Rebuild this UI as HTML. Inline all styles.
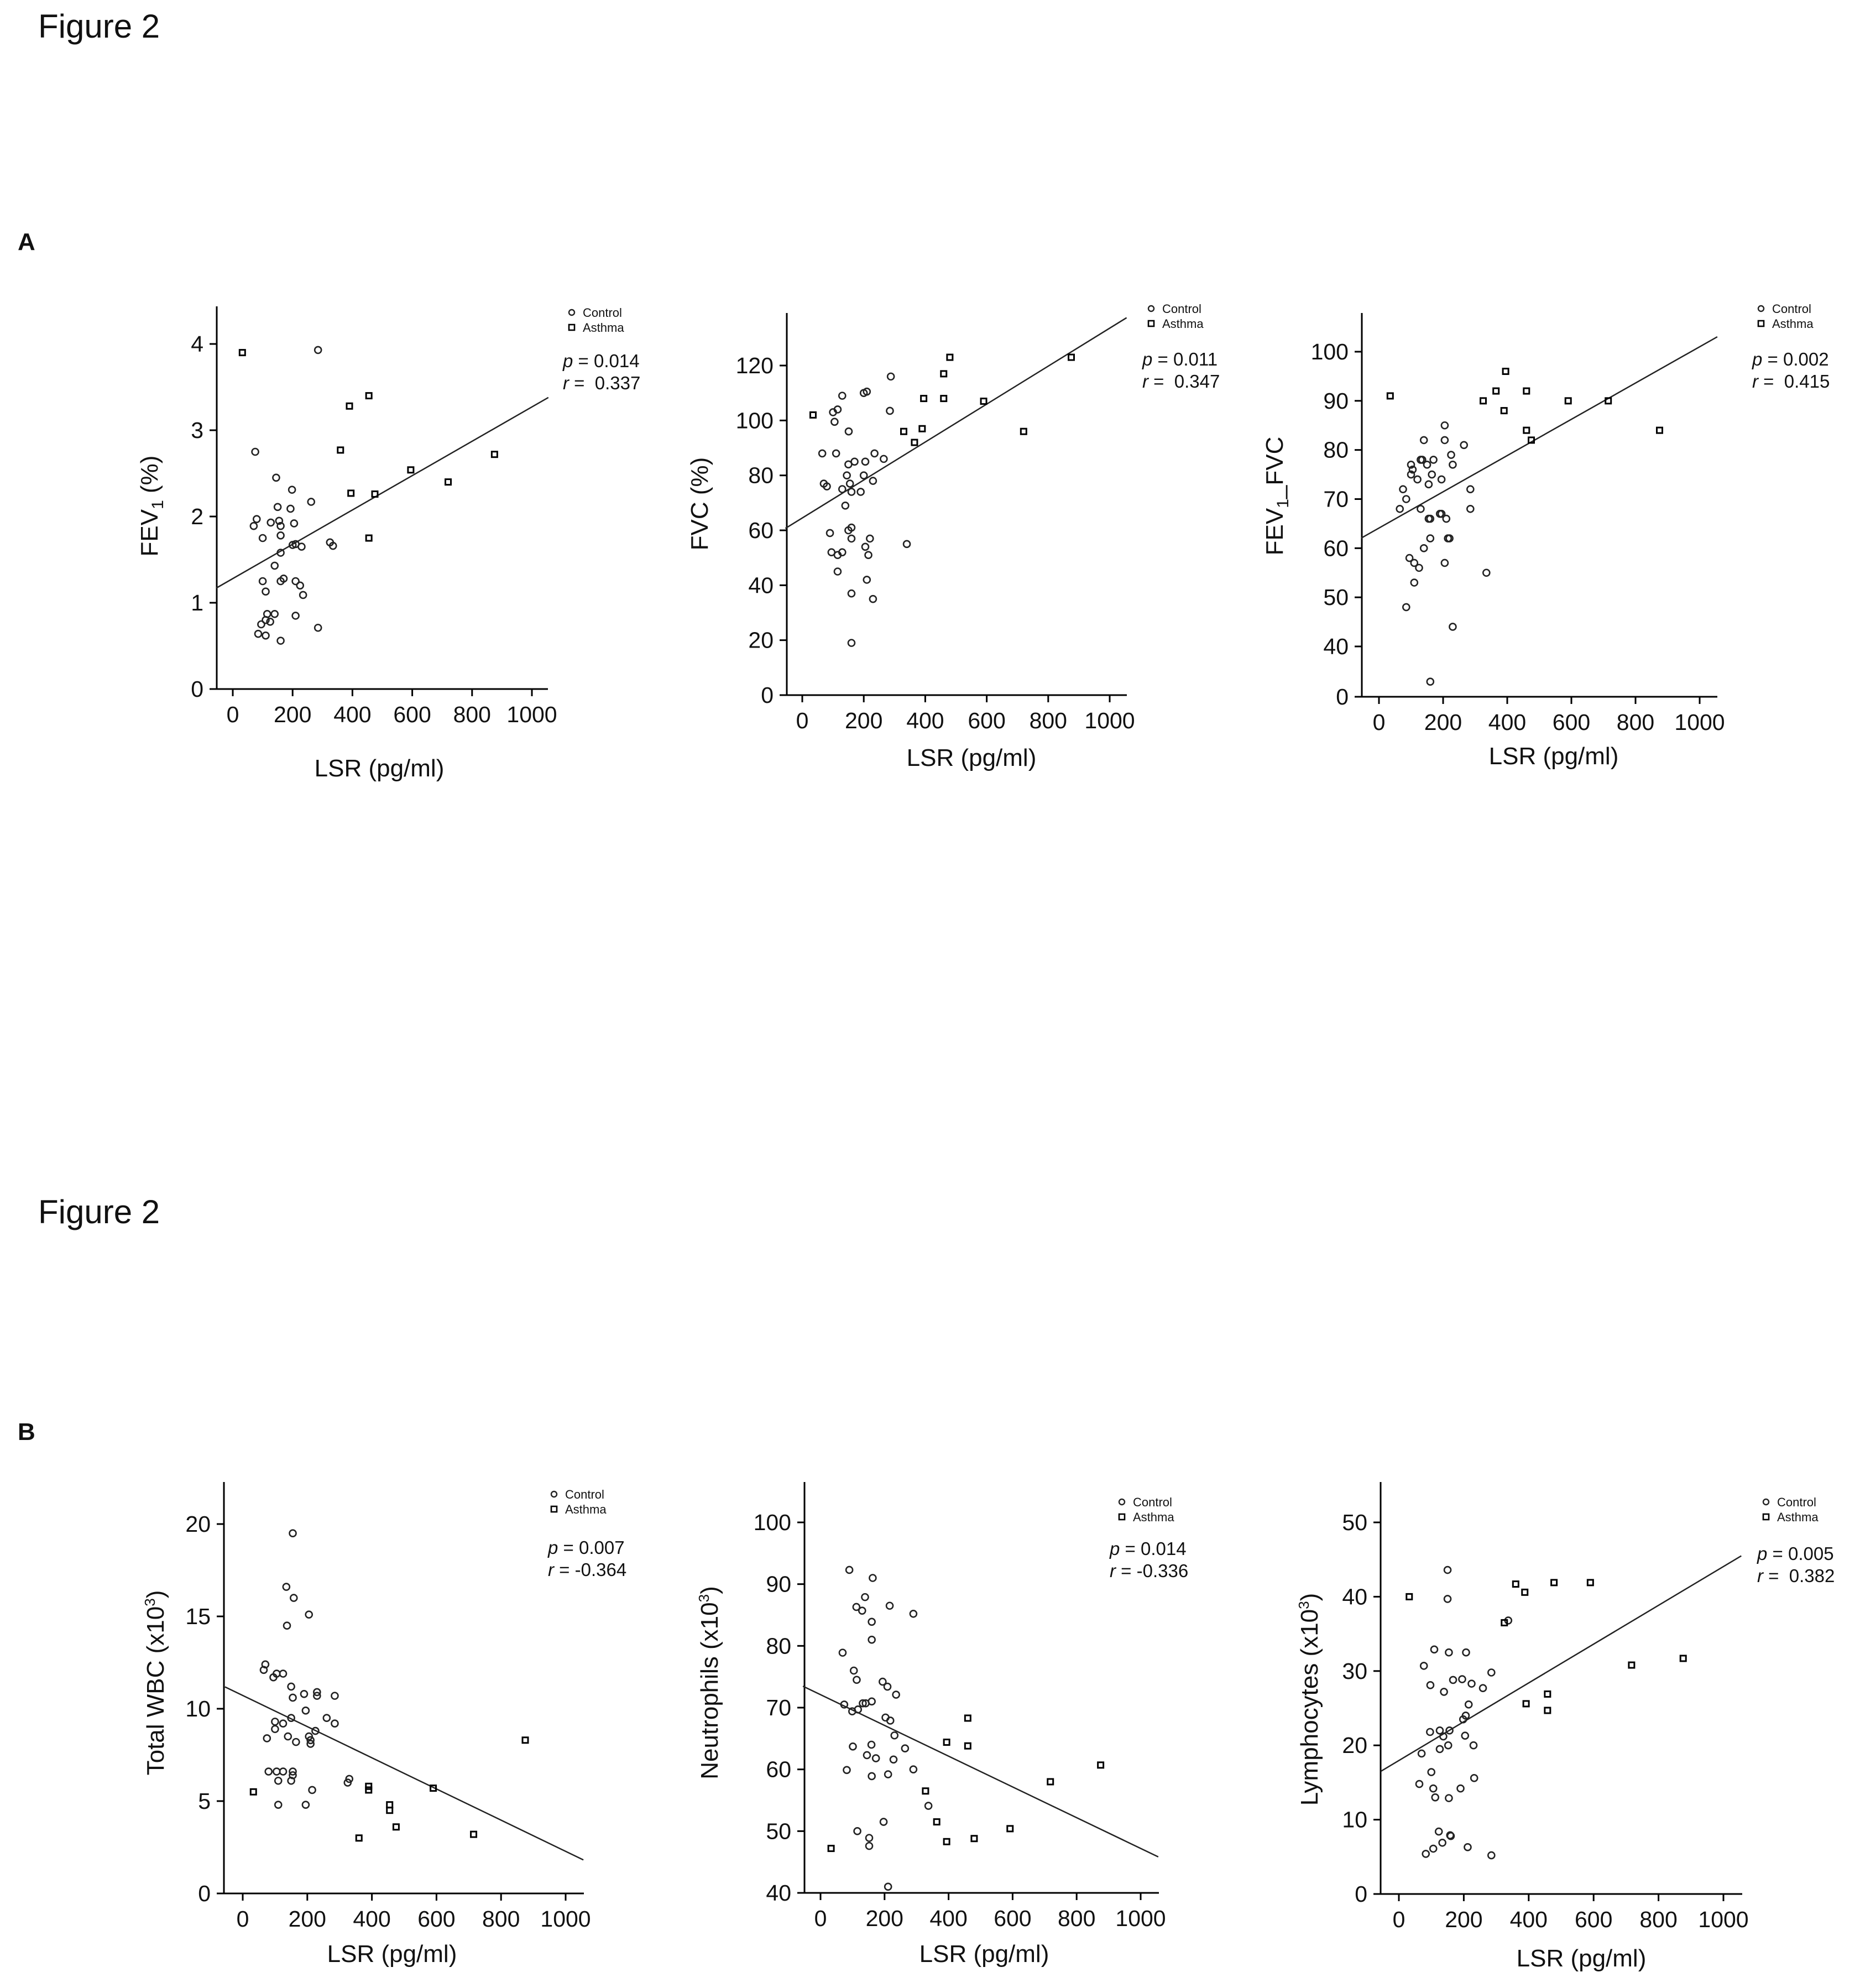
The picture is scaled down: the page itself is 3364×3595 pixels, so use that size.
<!DOCTYPE html>
<html><head><meta charset="utf-8"><style>
html,body{margin:0;padding:0;background:#fff}
svg{display:block}
text{font-family:"Liberation Sans",Arial,sans-serif;fill:#111}
</style></head><body>
<svg id="fig" width="3364" height="3595" viewBox="0 0 3364 3595" xmlns="http://www.w3.org/2000/svg">
<text x="69" y="68" font-size="60">Figure 2</text>
<text x="32" y="452" font-size="44" font-weight="bold">A</text>
<text x="69" y="2212" font-size="60">Figure 2</text>
<text x="32" y="2604" font-size="44" font-weight="bold">B</text>
</svg>
<script>
// ---- data (LSR pg/ml vs outcome) ----
const a1Control=[[285,3.93],[75,2.75],[145,2.45],[198,2.31],[262,2.17],[150,2.11],[193,2.09],[80,1.97],[70,1.89],[127,1.93],[155,1.95],[160,1.89],[205,1.92],[100,1.75],[160,1.78],[200,1.67],[210,1.68],[230,1.65],[325,1.70],[335,1.66],[160,1.58],[140,1.43],[100,1.25],[160,1.25],[170,1.28],[210,1.25],[225,1.20],[110,1.13],[235,1.09],[115,0.87],[140,0.87],[210,0.85],[95,0.75],[110,0.80],[125,0.78],[85,0.64],[110,0.62],[160,0.56],[285,0.71]];
const a1Asthma=[[32,3.9],[455,3.4],[390,3.28],[360,2.77],[395,2.27],[475,2.26],[595,2.54],[720,2.40],[875,2.72],[455,1.75]];
const a1Fit=[1.28,0.00199];
const a2Control=[[288,116],[130,109],[200,110],[210,110.5],[100,103],[115,104],[105,99.5],[285,103.5],[151,96],[65,88],[110,88],[235,88],[265,86],[170,85],[205,85],[150,84],[145,80],[200,80],[230,78],[70,77],[80,76],[130,75],[155,77],[160,74],[190,74],[140,69],[150,60],[160,61],[90,59],[160,57],[220,57],[95,52],[115,51],[130,52],[205,54],[215,51],[115,45],[210,42],[160,37],[230,35],[340,55],[160,19]];
const a2Asthma=[[35,102],[330,96],[365,92],[390,97],[395,108],[460,108],[460,117],[480,123],[590,107],[720,96],[875,123]];
const a2Fit=[64.5,0.0691];
const a3Control=[[205,85],[140,82],[205,82],[265,81],[225,79],[130,78],[135,78],[170,78],[150,77],[230,77],[100,77],[105,76],[100,75],[165,75],[120,74],[195,74],[155,73],[75,72],[285,72],[85,70],[65,68],[130,68],[285,68],[190,67],[195,67],[210,66],[155,66],[160,66],[215,62],[220,62],[160,62],[140,60],[95,58],[110,57],[125,56],[205,57],[335,55],[110,53],[85,48],[230,44],[160,12]];
const a3Asthma=[[35,91],[395,96],[325,90],[365,92],[460,92],[390,88],[590,90],[715,90],[460,84],[475,82],[875,84]];
const a3Fit=[64.1,0.0369];
const b1Control=[[155,19.5],[135,16.6],[158,16.0],[205,15.1],[137,14.5],[70,12.4],[65,12.1],[105,11.9],[125,11.9],[95,11.7],[150,11.2],[190,10.8],[230,10.9],[230,10.7],[155,10.6],[285,10.7],[195,9.9],[150,9.5],[260,9.5],[100,9.3],[125,9.2],[285,9.2],[225,8.8],[205,8.5],[210,8.3],[100,8.9],[140,8.5],[75,8.4],[210,8.1],[165,8.2],[80,6.6],[105,6.6],[125,6.6],[155,6.6],[155,6.4],[110,6.1],[150,6.1],[215,5.6],[110,4.8],[195,4.8],[330,6.2],[325,6.0]];
const b1Asthma=[[33,5.5],[390,5.8],[390,5.6],[455,4.8],[455,4.5],[475,3.6],[360,3.0],[590,5.7],[715,3.2],[875,8.3]];
const b1Fit=[10.72,-0.00844];
const b2Control=[[90,92.3],[163,91],[139,87.9],[112,86.3],[130,85.7],[216,86.5],[290,85.2],[160,83.9],[160,81],[69,78.9],[104,76],[113,74.5],[194,74.2],[209,73.4],[236,72.1],[74,70.5],[99,69.4],[117,69.7],[132,70.7],[141,70.7],[160,71],[203,68.4],[218,67.9],[231,65.5],[264,63.4],[101,63.7],[159,64],[145,62.3],[173,61.8],[228,61.6],[82,59.9],[290,60],[160,58.9],[211,59.2],[337,54.1],[197,51.5],[115,50],[152,48.9],[152,47.6],[211,41]];
const b2Asthma=[[460,68.3],[394,64.4],[460,63.8],[328,56.5],[363,51.5],[394,48.3],[480,48.8],[592,50.4],[718,58.0],[875,60.7],[33,47.2]];
const b2Fit=[72.1,-0.0249];
const b3Control=[[150,43.6],[150,39.7],[337,36.8],[109,32.9],[154,32.5],[207,32.5],[77,30.7],[285,29.8],[195,28.9],[167,28.8],[224,28.3],[259,27.7],[97,28.1],[139,27.2],[215,25.5],[206,24],[198,23.5],[96,21.8],[126,22],[156,22],[137,21.2],[204,21.3],[152,20],[230,20],[126,19.5],[70,18.9],[100,16.4],[232,15.6],[63,14.8],[106,14.2],[190,14.2],[112,13],[154,12.9],[123,8.4],[158,7.9],[160,7.8],[134,6.9],[106,6.1],[83,5.4],[212,6.3],[285,5.2]];
const b3Asthma=[[32,40],[360,41.7],[388,40.6],[478,41.9],[590,41.9],[325,36.5],[392,25.6],[458,26.9],[458,24.7],[717,30.8],[876,31.7]];
const b3Fit=[17.96,0.0261];
const xTicks=[0,200,400,600,800,1000];
const a1YTicks=[0,1,2,3,4];
const a2YTicks=[0,20,40,60,80,100,120];
const a3YTicks=[0,40,50,60,70,80,90,100];
const b1YTicks=[0,5,10,15,20];
const b2YTicks=[40,50,60,70,80,90,100];
const b3YTicks=[0,10,20,30,40,50];
const stats=[["0.014","0.337"],["0.011","0.347"],["0.002","0.415"],["0.007","-0.364"],["0.014","-0.336"],["0.005","0.382"]];

const NS="http://www.w3.org/2000/svg";
const svg=document.getElementById('fig');
function mk(tag,attrs,parent){const e=document.createElementNS(NS,tag);for(const k in attrs)e.setAttribute(k,attrs[k]);(parent||svg).appendChild(e);return e;}

const panels=[
 {id:'a1',ax:392,x0:421,x1:962,ay:1246,top:554,right:991,yv:[[0,1246],[4,622]],yt:a1YTicks,c:a1Control,a:a1Asthma,fit:a1Fit,yt1:'FEV',sub:'1',yt2:' (%)',ytx:285,yty:915,xtx:686,xty:1404,lg:[1034,565],st:[1018,664]},
 {id:'a2',ax:1423,x0:1451,x1:2007,ay:1257,top:566,right:2038,yv:[[0,1257],[120,661]],yt:a2YTicks,c:a2Control,a:a2Asthma,fit:a2Fit,yt1:'FVC (%)',ytx:1280,yty:911,xtx:1757,xty:1385,lg:[2082,558],st:[2066,661]},
 {id:'a3',ax:2463,x0:2494,x1:3074,ay:1260,top:566,right:3106,yv:[[0,1260],[40,1169],[100,636]],yt:a3YTicks,c:a3Control,a:a3Asthma,fit:a3Fit,yt1:'FEV',sub:'1',yt2:'_FVC',ytx:2320,yty:897,xtx:2810,xty:1382,lg:[3185,558],st:[3169,661]},
 {id:'b1',ax:405,x0:439,x1:1023,ay:3424,top:2680,right:1056,yv:[[0,3424],[20,2756]],yt:b1YTicks,c:b1Control,a:b1Asthma,fit:b1Fit,yt1:'Total WBC (x10',sup:'3',yt3:')',ytx:296,yty:3043,xtx:709,xty:3548,lg:[1002,2702],st:[991,2810]},
 {id:'b2',ax:1455,x0:1484,x1:2063,ay:3423,top:2680,right:2096,yv:[[40,3423],[100,2753]],yt:b2YTicks,c:b2Control,a:b2Asthma,fit:b2Fit,yt1:'Neutrophils  (x10',sup:'3',yt3:')',ytx:1298,yty:3043,xtx:1780,xty:3548,lg:[2029,2716],st:[2007,2812]},
 {id:'b3',ax:2497,x0:2530,x1:3117,ay:3425,top:2680,right:3151,yv:[[0,3425],[50,2753]],yt:b3YTicks,c:b3Control,a:b3Asthma,fit:b3Fit,yt1:'Lymphocytes  (x10',sup:'3',yt3:')',ytx:2383,yty:3073,xtx:2860,xty:3556,lg:[3194,2716],st:[3178,2821]}
];

panels.forEach((p,pi)=>{
 const g=mk('g',{});
 
 
 const X=v=>p.x0+(p.x1-p.x0)*v/1000;
 const Y=v=>{const s=p.yv;let i=0;while(i<s.length-2&&v>s[i+1][0])i++;const a=s[i],b=s[i+1];return a[1]+(b[1]-a[1])*(v-a[0])/(b[0]-a[0]);};
 const yax=mk('line',{x1:p.ax,y1:p.top,x2:p.ax,y2:p.ay,stroke:'#000','stroke-width':3},g);
 
 
 const xax=mk('line',{x1:p.ax,y1:p.ay,x2:p.right,y2:p.ay,stroke:'#000','stroke-width':3},g);
 
 
 xTicks.forEach(t=>{
  mk('line',{x1:X(t),y1:p.ay,x2:X(t),y2:p.ay+13,stroke:'#000','stroke-width':3},g);
  const tl=mk('text',{x:X(t),y:p.ay+60,'font-size':41,'text-anchor':'middle'},g);
  tl.textContent=t;
  
  
 });
 p.yt.forEach(t=>{
  mk('line',{x1:p.ax-13,y1:Y(t),x2:p.ax,y2:Y(t),stroke:'#000','stroke-width':3},g);
  const tl=mk('text',{x:p.ax-24,y:Y(t)+14,'font-size':41,'text-anchor':'end'},g);
  tl.textContent=t;
  
  
 });
 const xa=-55,xb=1055;
 const fl=mk('line',{x1:X(xa),y1:Y(p.fit[0]+p.fit[1]*xa),x2:X(xb),y2:Y(p.fit[0]+p.fit[1]*xb),stroke:'#222','stroke-width':2.5},g);
 
 
 p.c.forEach(d=>{
  const c=mk('circle',{cx:X(d[0]),cy:Y(d[1]),r:6,fill:'none',stroke:'#222','stroke-width':2.6},g);
  
  
 });
 p.a.forEach(d=>{
  const r=mk('rect',{x:X(d[0])-5,y:Y(d[1])-5,width:10,height:10,fill:'none',stroke:'#000','stroke-width':3},g);
  
  
 });
 const xt=mk('text',{x:p.xtx,y:p.xty,'font-size':44,'text-anchor':'middle'},g);
 xt.textContent='LSR (pg/ml)';
 
 
 const yt=mk('text',{x:p.ytx,y:p.yty,'font-size':44,'text-anchor':'middle',transform:`rotate(-90 ${p.ytx} ${p.yty})`},g);
 
 
 let h=p.yt1;
 if(p.sub)h+=`<tspan font-size="30" dy="10">${p.sub}</tspan><tspan dy="-10">${p.yt2}</tspan>`;
 if(p.sup)h+=`<tspan font-size="26" dy="-16">${p.sup}</tspan><tspan dy="16">${p.yt3}</tspan>`;
 yt.innerHTML=h;
 const lc=mk('circle',{cx:p.lg[0],cy:p.lg[1],r:5,fill:'none',stroke:'#222','stroke-width':2.4},g);
 
 
 const lt1=mk('text',{x:p.lg[0]+20,y:p.lg[1]+8,'font-size':22,fill:'#444'},g);
 lt1.textContent='Control';
 
 
 const ls=mk('rect',{x:p.lg[0]-5,y:p.lg[1]+22,width:10,height:10,fill:'none',stroke:'#000','stroke-width':2.6},g);
 
 
 const lt2=mk('text',{x:p.lg[0]+20,y:p.lg[1]+35,'font-size':22,fill:'#444'},g);
 lt2.textContent='Asthma';
 
 
 const sp=mk('text',{x:p.st[0],y:p.st[1],'font-size':33},g);
 sp.innerHTML=`<tspan font-style="italic">p</tspan> = ${stats[pi][0]}`;
 
 
 const sr=mk('text',{x:p.st[0],y:p.st[1]+40,'font-size':33},g);
 const rv=stats[pi][1];
 sr.innerHTML=`<tspan font-style="italic">r</tspan> = ${rv[0]==='-'?rv:'\u00a0'+rv}`;
 
 
});
</script>
</body></html>
